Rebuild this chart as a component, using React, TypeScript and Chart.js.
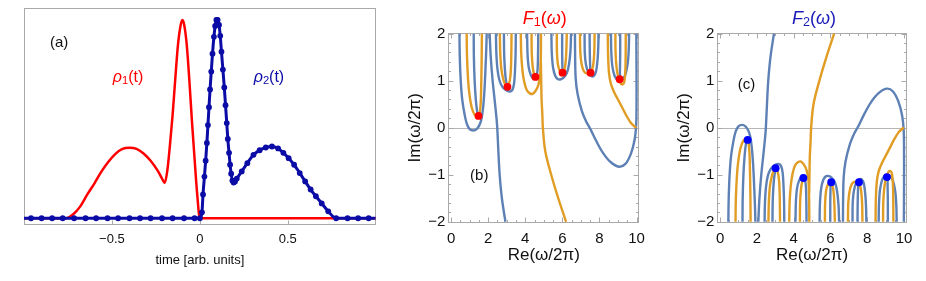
import React, { useEffect, useRef } from 'react';
import { Chart, registerables } from 'chart.js';

Chart.register(...registerables);

const FONT = '"Liberation Sans", Arial, Helvetica, sans-serif';
Chart.defaults.font.family = FONT;

const BLUE_C = '#5e81b5';
const ORANGE_C = '#e19c24';
const DARK_BLUE = '#0b0ba6';
const TITLE_BLUE = '#1a1ab8';
const RED = '#ff0000';
const FRAME = '#a9a9a9';
const TEXT = '#111111';

type P = [number, number];

// ---------- Panel (a): time signals ----------
const timeTicks = [-0.5, 0, 0.5];

const rho1: P[] = [
  [-1, 0], [-0.76, 0], [-0.72, 0.02], [-0.68, 0.06], [-0.64, 0.12], [-0.6, 0.175], [-0.56, 0.235],
  [-0.52, 0.285], [-0.48, 0.325], [-0.44, 0.35], [-0.4, 0.356], [-0.36, 0.35], [-0.32, 0.327],
  [-0.28, 0.29], [-0.24, 0.24], [-0.215, 0.2], [-0.2, 0.178], [-0.185, 0.24], [-0.17, 0.37],
  [-0.155, 0.52], [-0.14, 0.7], [-0.125, 0.87], [-0.11, 0.97], [-0.1, 1.0], [-0.09, 0.98],
  [-0.075, 0.88], [-0.06, 0.7], [-0.045, 0.49], [-0.03, 0.3], [-0.015, 0.12], [0, 0], [1, 0],
];

const rho2: P[] = [
  [-1, 0], [-0.96, 0], [-0.9, 0], [-0.84, 0], [-0.78, 0], [-0.715, 0], [-0.65, 0], [-0.59, 0],
  [-0.525, 0], [-0.465, 0], [-0.4, 0], [-0.34, 0], [-0.28, 0], [-0.215, 0], [-0.155, 0], [-0.09, 0],
  [-0.03, 0], [0, 0], [0.012, 0.03], [0.018, 0.12], [0.026, 0.21], [0.033, 0.29], [0.04, 0.38],
  [0.046, 0.47], [0.052, 0.56], [0.058, 0.65], [0.065, 0.74], [0.072, 0.83], [0.08, 0.915],
  [0.087, 0.97], [0.094, 1.0], [0.101, 1.0], [0.109, 0.975], [0.116, 0.92], [0.123, 0.84],
  [0.131, 0.75], [0.139, 0.66], [0.146, 0.57], [0.153, 0.48], [0.159, 0.4], [0.166, 0.33],
  [0.172, 0.27], [0.178, 0.225], [0.185, 0.19], [0.192, 0.18], [0.2, 0.185], [0.21, 0.2],
  [0.238, 0.236], [0.27, 0.278], [0.305, 0.32], [0.34, 0.343], [0.375, 0.357], [0.41, 0.362],
  [0.445, 0.352], [0.475, 0.33], [0.505, 0.303], [0.536, 0.27], [0.568, 0.228], [0.599, 0.186],
  [0.63, 0.145], [0.66, 0.111], [0.693, 0.075], [0.73, 0.035], [0.775, 0], [0.84, 0], [0.9, 0],
  [0.96, 0], [1, 0],
];

// ---------- Panels (b), (c): contour lines in the complex plane ----------
const reTicks = [0, 2, 4, 6, 8, 10];
const imTicks = [-2, -1, 0, 1, 2];

// (b) F1: blue = Re F1 = 0, orange = Im F1 = 0
const bBlue: P[][] = [
  [[0.45, 2], [0.47, 1.5], [0.52, 1.0], [0.6, 0.6], [0.72, 0.3], [0.85, 0.08], [1.0, -0.03], [1.2, -0.06], [1.38, -0.03], [1.52, 0.05], [1.63, 0.17], [1.72, 0.4], [1.8, 0.8], [1.86, 1.3], [1.9, 1.7], [1.92, 2]],
  [[1.22, 2], [1.23, 1.5], [1.27, 1.0], [1.33, 0.62], [1.4, 0.36], [1.47, 0.24]],
  [[2.08, 2], [2.14, 1.5], [2.24, 1.0], [2.36, 0.55], [2.45, 0.2], [2.49, 0], [2.55, -0.5], [2.62, -1.0], [2.74, -1.5], [2.93, -2]],
  [[2.42, 2], [2.44, 1.6], [2.5, 1.25], [2.6, 1.02], [2.75, 0.88], [2.95, 0.8], [3.15, 0.77], [3.3, 0.8], [3.4, 0.95], [3.45, 1.25], [3.48, 1.6], [3.49, 2]],
  [[2.85, 2], [2.86, 1.6], [2.9, 1.25], [2.96, 1.0], [3.03, 0.88]],
  [[4.1, 2], [4.12, 1.6], [4.18, 1.3], [4.3, 1.12], [4.45, 1.04], [4.58, 1.06], [4.66, 1.22], [4.69, 1.6], [4.7, 2]],
  [[5.41, 2], [5.43, 1.6], [5.5, 1.28], [5.62, 1.1], [5.77, 1.03], [5.92, 1.03], [6.08, 1.07], [6.24, 1.16], [6.36, 1.35], [6.44, 1.65], [6.47, 2]],
  [[5.99, 2], [5.99, 1.6], [6.0, 1.35], [6.01, 1.18]],
  [[6.68, 2], [6.69, 1.5], [6.72, 1.05], [6.82, 0.72], [7.05, 0.36], [7.3, 0.12], [7.5, -0.02], [7.85, -0.3], [8.2, -0.54], [8.6, -0.73], [9.05, -0.83], [9.4, -0.77], [9.7, -0.55], [9.9, -0.25], [9.98, 0.05], [10.0, 0.5], [10.0, 1.2], [9.99, 2]],
  [[7.2, 2], [7.21, 1.6], [7.27, 1.35], [7.4, 1.17], [7.55, 1.1], [7.7, 1.1], [7.82, 1.2], [7.9, 1.45], [7.94, 1.75], [7.95, 2]],
  [[7.47, 2], [7.48, 1.6], [7.5, 1.3], [7.52, 1.18]],
  [[8.62, 2], [8.64, 1.6], [8.7, 1.3], [8.82, 1.1], [8.96, 1.02], [9.1, 1.0], [9.25, 1.03], [9.4, 1.13], [9.52, 1.35], [9.58, 1.65], [9.6, 2]],
  [[9.12, 2], [9.12, 1.6], [9.11, 1.3], [9.1, 1.06]],
];
const bOrange: P[][] = [
  [[0.84, 2], [0.86, 1.5], [0.92, 1.0], [1.0, 0.68], [1.12, 0.42], [1.28, 0.27], [1.45, 0.23], [1.54, 0.3], [1.6, 0.55], [1.63, 1.0], [1.65, 1.5], [1.66, 2]],
  [[2.63, 2], [2.65, 1.6], [2.71, 1.25], [2.82, 1.02], [2.93, 0.91], [3.03, 0.87], [3.12, 0.92], [3.2, 1.1], [3.24, 1.4], [3.26, 2]],
  [[3.76, 2], [3.78, 1.6], [3.84, 1.25], [3.94, 0.98], [4.08, 0.8], [4.25, 0.73], [4.4, 0.72], [4.55, 0.78], [4.7, 0.9], [4.8, 1.1], [4.84, 1.5], [4.85, 2]],
  [[4.34, 2], [4.35, 1.6], [4.4, 1.3], [4.47, 1.14], [4.54, 1.08]],
  [[4.84, 1.4], [4.86, 1.0], [4.88, 0.6], [4.92, 0.3], [4.95, 0], [5.08, -0.5], [5.4, -1.0], [5.78, -1.5], [6.2, -2]],
  [[5.7, 2], [5.71, 1.6], [5.76, 1.35], [5.86, 1.21], [6.0, 1.17], [6.1, 1.22], [6.18, 1.4], [6.22, 1.7], [6.24, 2]],
  [[6.95, 2], [6.97, 1.6], [7.04, 1.35], [7.16, 1.2], [7.33, 1.15], [7.52, 1.17], [7.65, 1.3], [7.72, 1.6], [7.74, 2]],
  [[8.45, 2], [8.47, 1.5], [8.52, 1.15], [8.62, 0.93], [8.8, 0.75], [9.0, 0.6], [9.2, 0.45], [9.45, 0.26], [9.7, 0.1], [9.88, 0.03], [10.0, 0.0]],
  [[8.86, 2], [8.87, 1.6], [8.92, 1.3], [9.0, 1.1], [9.1, 0.98], [9.22, 0.92], [9.32, 0.95], [9.38, 1.1], [9.41, 1.4], [9.42, 2]],
];
const bZeros: P[] = [[1.48, 0.25], [3.04, 0.87], [4.55, 1.08], [6.01, 1.17], [7.52, 1.17], [9.09, 1.03]];

// (c) F2
const cBlue: P[][] = [
  [[0.45, -2], [0.47, -1.5], [0.52, -1.0], [0.6, -0.6], [0.72, -0.3], [0.85, -0.08], [1.0, 0.03], [1.2, 0.06], [1.38, 0.03], [1.52, -0.05], [1.63, -0.17], [1.72, -0.4], [1.8, -0.8], [1.86, -1.3], [1.9, -1.7], [1.92, -2]],
  [[1.22, -2], [1.23, -1.5], [1.27, -1.0], [1.33, -0.62], [1.4, -0.36], [1.47, -0.24]],
  [[2.08, -2], [2.14, -1.5], [2.24, -1.0], [2.36, -0.55], [2.45, -0.2], [2.49, 0], [2.55, 0.5], [2.62, 1.0], [2.74, 1.5], [2.93, 2]],
  [[2.42, -2], [2.44, -1.6], [2.5, -1.25], [2.6, -1.02], [2.75, -0.88], [2.95, -0.8], [3.15, -0.77], [3.3, -0.8], [3.4, -0.95], [3.45, -1.25], [3.48, -1.6], [3.49, -2]],
  [[2.85, -2], [2.86, -1.6], [2.9, -1.25], [2.96, -1.0], [3.03, -0.88]],
  [[4.1, -2], [4.12, -1.6], [4.18, -1.3], [4.3, -1.12], [4.45, -1.04], [4.58, -1.06], [4.66, -1.22], [4.69, -1.6], [4.7, -2]],
  [[5.41, -2], [5.43, -1.6], [5.5, -1.28], [5.62, -1.1], [5.77, -1.03], [5.92, -1.03], [6.08, -1.07], [6.24, -1.16], [6.36, -1.35], [6.44, -1.65], [6.47, -2]],
  [[5.99, -2], [5.99, -1.6], [6.0, -1.35], [6.01, -1.18]],
  [[6.68, -2], [6.69, -1.5], [6.72, -1.05], [6.82, -0.72], [7.05, -0.36], [7.3, -0.12], [7.5, 0.02], [7.85, 0.3], [8.2, 0.54], [8.6, 0.73], [9.05, 0.83], [9.4, 0.77], [9.7, 0.55], [9.9, 0.25], [9.98, -0.05], [10.0, -0.5], [10.0, -1.2], [9.99, -2]],
  [[7.2, -2], [7.21, -1.6], [7.27, -1.35], [7.4, -1.17], [7.55, -1.1], [7.7, -1.1], [7.82, -1.2], [7.9, -1.45], [7.94, -1.75], [7.95, -2]],
  [[7.47, -2], [7.48, -1.6], [7.5, -1.3], [7.52, -1.18]],
  [[8.62, -2], [8.64, -1.6], [8.7, -1.3], [8.82, -1.1], [8.96, -1.02], [9.1, -1.0], [9.25, -1.03], [9.4, -1.13], [9.52, -1.35], [9.58, -1.65], [9.6, -2]],
  [[9.12, -2], [9.12, -1.6], [9.11, -1.3], [9.1, -1.06]],
];
const cOrange: P[][] = [
  [[0.84, -2], [0.86, -1.5], [0.92, -1.0], [1.0, -0.68], [1.12, -0.42], [1.28, -0.27], [1.45, -0.23], [1.54, -0.3], [1.6, -0.55], [1.63, -1.0], [1.65, -1.5], [1.66, -2]],
  [[2.63, -2], [2.65, -1.6], [2.71, -1.25], [2.82, -1.02], [2.93, -0.91], [3.03, -0.87], [3.12, -0.92], [3.2, -1.1], [3.24, -1.4], [3.26, -2]],
  [[3.76, -2], [3.78, -1.6], [3.84, -1.25], [3.94, -0.98], [4.08, -0.8], [4.25, -0.73], [4.4, -0.72], [4.55, -0.78], [4.7, -0.9], [4.8, -1.1], [4.84, -1.5], [4.85, -2]],
  [[4.34, -2], [4.35, -1.6], [4.4, -1.3], [4.47, -1.14], [4.54, -1.08]],
  [[4.84, -1.4], [4.86, -1.0], [4.88, -0.6], [4.92, -0.3], [4.95, 0], [5.08, 0.5], [5.4, 1.0], [5.78, 1.5], [6.2, 2]],
  [[5.7, -2], [5.71, -1.6], [5.76, -1.35], [5.86, -1.21], [6.0, -1.17], [6.1, -1.22], [6.18, -1.4], [6.22, -1.7], [6.24, -2]],
  [[6.95, -2], [6.97, -1.6], [7.04, -1.35], [7.16, -1.2], [7.33, -1.15], [7.52, -1.17], [7.65, -1.3], [7.72, -1.6], [7.74, -2]],
  [[8.45, -2], [8.47, -1.5], [8.52, -1.15], [8.62, -0.93], [8.8, -0.75], [9.0, -0.6], [9.2, -0.45], [9.45, -0.26], [9.7, -0.1], [9.88, -0.03], [10.0, 0.0]],
  [[8.86, -2], [8.87, -1.6], [8.92, -1.3], [9.0, -1.1], [9.1, -0.98], [9.22, -0.92], [9.32, -0.95], [9.38, -1.1], [9.41, -1.4], [9.42, -2]],
];
const cZeros: P[] = [[1.5, -0.26], [3.02, -0.86], [4.53, -1.07], [6.04, -1.16], [7.55, -1.16], [9.07, -1.05]];

// ---------- helpers ----------
const fmt = (v: any) => (Number(v) < 0 ? '\u2212' + String(-Number(v)) : String(v));

function steps(a: number, b: number, s: number, skipEvery: number): number[] {
  const out: number[] = [];
  const n = Math.round((b - a) / s);
  for (let i = 0; i <= n; i++) {
    const v = +(a + i * s).toFixed(4);
    const r = v / skipEvery;
    if (Math.abs(r - Math.round(r)) > 1e-6) out.push(v);
  }
  return out;
}

function makeFrame(cfg: any) {
  return {
    id: 'frame',
    beforeDatasetsDraw(chart: any) {
      const { ctx, chartArea: ca, scales } = chart;
      ctx.save();
      ctx.lineWidth = 1;
      if (cfg.zeroLine) {
        const y0 = Math.round(scales.y.getPixelForValue(0)) + 0.5;
        ctx.strokeStyle = cfg.zeroColor;
        ctx.beginPath();
        ctx.moveTo(ca.left, y0);
        ctx.lineTo(ca.right, y0);
        ctx.stroke();
      }
      const L = Math.round(ca.left) + 0.5;
      const R = Math.round(ca.right) - 0.5;
      const T = Math.round(ca.top) + 0.5;
      const B = Math.round(ca.bottom) - 0.5;
      ctx.strokeStyle = cfg.color;
      ctx.strokeRect(L, T, R - L, B - T);
      ctx.beginPath();
      const xt = (vals: number[], len: number) => {
        for (const v of vals) {
          const p = Math.round(scales.x.getPixelForValue(v)) + 0.5;
          ctx.moveTo(p, B);
          ctx.lineTo(p, B - len);
          if (cfg.allSides) {
            ctx.moveTo(p, T);
            ctx.lineTo(p, T + len);
          }
        }
      };
      const yt = (vals: number[], len: number) => {
        for (const v of vals) {
          const p = Math.round(scales.y.getPixelForValue(v)) + 0.5;
          ctx.moveTo(L, p);
          ctx.lineTo(L + len, p);
          if (cfg.allSides) {
            ctx.moveTo(R, p);
            ctx.lineTo(R - len, p);
          }
        }
      };
      xt(cfg.xMajor || [], cfg.majorLen);
      xt(cfg.xMinor || [], cfg.minorLen);
      yt(cfg.yMajor || [], cfg.majorLen);
      yt(cfg.yMinor || [], cfg.minorLen);
      ctx.stroke();
      ctx.restore();
    },
  };
}

function makeRichText(items: any[]) {
  return {
    id: 'richText',
    afterDraw(chart: any) {
      const { ctx, chartArea, scales } = chart;
      ctx.save();
      ctx.textBaseline = 'middle';
      ctx.textAlign = 'left';
      for (const it of items) {
        const px = it.pixel ? (chartArea.left + chartArea.right) / 2 + it.x : scales.x.getPixelForValue(it.x);
        const py = it.pixel ? it.y : scales.y.getPixelForValue(it.y);
        const font = (p: any) => `${p.italic ? 'italic ' : ''}${(it.size * (p.scale || 1)).toFixed(1)}px ${FONT}`;
        let w = 0;
        for (const p of it.parts) {
          ctx.font = font(p);
          w += ctx.measureText(p.t).width;
        }
        let cx = px - w / 2;
        ctx.fillStyle = it.color;
        for (const p of it.parts) {
          ctx.font = font(p);
          ctx.fillText(p.t, cx, py + (p.dy || 0));
          cx += ctx.measureText(p.t).width;
        }
      }
      ctx.restore();
    },
  };
}

const contour = (data: P[], color: string) => ({
  data,
  borderColor: color,
  borderWidth: 2.4,
  showLine: true,
  tension: 0.35,
  pointRadius: 0,
  fill: false,
  borderCapStyle: 'butt',
  borderJoinStyle: 'round',
});

// ---------- configs ----------
function configA(): any {
  return {
    type: 'scatter',
    data: {
      datasets: [
        {
          data: rho2,
          borderColor: DARK_BLUE,
          borderWidth: 3,
          showLine: true,
          cubicInterpolationMode: 'monotone',
          pointRadius: (c: any) => {
            const t = c.raw ? c.raw[0] : 0;
            return t <= -0.999 || t >= 0.999 ? 0 : 2.9;
          },
          pointBackgroundColor: DARK_BLUE,
          pointBorderWidth: 0,
        },
        {
          data: rho1,
          borderColor: RED,
          borderWidth: 2.5,
          showLine: true,
          cubicInterpolationMode: 'monotone',
          pointRadius: 0,
        },
      ],
    },
    options: {
      responsive: false,
      animation: false,
      events: [],
      layout: { padding: { left: 24, right: 14.3, top: 8.3, bottom: 0 } },
      scales: {
        x: {
          type: 'linear',
          min: -1,
          max: 1,
          grid: { display: false, drawTicks: false },
          border: { display: false },
          afterBuildTicks: (s: any) => {
            s.ticks = timeTicks.map((v) => ({ value: v }));
          },
          afterFit: (s: any) => {
            s.height = 56;
          },
          ticks: { padding: 6.5, font: { size: 13 }, color: TEXT, callback: fmt, maxRotation: 0, autoSkip: false },
          title: { display: true, text: 'time [arb. units]', font: { size: 13 }, color: TEXT, padding: { top: 0, bottom: 13.2 } },
        },
        y: { type: 'linear', min: -0.034, max: 1.059, display: false },
      },
      plugins: { legend: { display: false }, tooltip: { enabled: false } },
    },
    plugins: [
      makeFrame({ color: FRAME, xMajor: timeTicks, majorLen: 4, minorLen: 2, allSides: false }),
      makeRichText([
        { x: -0.8, y: 0.884, parts: [{ t: '(a)' }], color: TEXT, size: 15 },
        { x: -0.408, y: 0.712, parts: [{ t: 'ρ', italic: true }, { t: '1', scale: 0.7, dy: 4 }, { t: '(t)' }], color: RED, size: 16 },
        { x: 0.393, y: 0.712, parts: [{ t: 'ρ', italic: true }, { t: '2', scale: 0.7, dy: 4 }, { t: '(t)' }], color: DARK_BLUE, size: 16 },
      ]),
    ],
  };
}

function configComplex(blue: P[][], orange: P[][], zeros: P[], zeroColor: string, yAxisWidth: number, rightPad: number, yTitlePad: number, labels: any[]): any {
  const datasets: any[] = [
    { data: zeros, showLine: false, pointRadius: 3.9, pointBackgroundColor: zeroColor, pointBorderWidth: 0 },
    ...orange.map((d) => contour(d, ORANGE_C)),
    ...blue.map((d) => contour(d, BLUE_C)),
  ];
  return {
    type: 'scatter',
    data: { datasets },
    options: {
      responsive: false,
      animation: false,
      events: [],
      layout: { padding: { left: 0, right: rightPad, top: 32.7, bottom: 0 } },
      scales: {
        x: {
          type: 'linear',
          min: -0.15,
          max: 10.15,
          grid: { display: false, drawTicks: false },
          border: { display: false },
          afterBuildTicks: (s: any) => {
            s.ticks = reTicks.map((v) => ({ value: v }));
          },
          afterFit: (s: any) => {
            s.height = 58.3;
          },
          ticks: { padding: 7, font: { size: 15 }, color: TEXT, callback: fmt, maxRotation: 0, autoSkip: false },
          title: { display: true, text: 'Re(ω/2π)', font: { size: 17 }, color: TEXT, padding: { top: 0, bottom: 15.5 } },
        },
        y: {
          type: 'linear',
          min: -2.02,
          max: 2.02,
          grid: { display: false, drawTicks: false },
          border: { display: false },
          afterBuildTicks: (s: any) => {
            s.ticks = imTicks.map((v) => ({ value: v }));
          },
          afterFit: (s: any) => {
            s.width = yAxisWidth;
          },
          ticks: { padding: 3, font: { size: 15 }, color: TEXT, callback: fmt, autoSkip: false },
          title: { display: true, text: 'Im(ω/2π)', font: { size: 17 }, color: TEXT, padding: { top: yTitlePad, bottom: 0 } },
        },
      },
      plugins: { legend: { display: false }, tooltip: { enabled: false } },
    },
    plugins: [
      makeFrame({
        color: FRAME,
        zeroLine: true,
        zeroColor: '#b5b5b5',
        xMajor: reTicks,
        xMinor: steps(0, 10, 0.5, 2),
        yMajor: imTicks,
        yMinor: steps(-2, 2, 0.2, 1),
        majorLen: 5,
        minorLen: 2.5,
        allSides: true,
      }),
      makeRichText(labels),
    ],
  };
}

function ChartCanvas({ left, width, build }: { left: number; width: number; build: () => any }) {
  const ref = useRef<HTMLCanvasElement>(null);
  useEffect(() => {
    const chart = new Chart(ref.current as HTMLCanvasElement, build());
    return () => chart.destroy();
  }, []);
  return (
    <canvas
      ref={ref}
      width={width}
      height={281}
      style={{ position: 'absolute', left, top: 0, width, height: 281, display: 'block' }}
    />
  );
}

export default function App() {
  return (
    <div style={{ position: 'absolute', left: 0, top: 0, width: 926, height: 281, background: '#ffffff', overflow: 'hidden' }}>
      <ChartCanvas left={0} width={390} build={configA} />
      <ChartCanvas
        left={390}
        width={270}
        build={() =>
          configComplex(bBlue, bOrange, bZeros, RED, 58.3, 20.7, 14.8, [
            { x: 1.52, y: -1.03, parts: [{ t: '(b)' }], color: TEXT, size: 15 },
            { pixel: true, x: 1, y: 19, parts: [{ t: 'F', italic: true }, { t: '1', scale: 0.7, dy: 4 }, { t: '(' }, { t: 'ω', italic: true }, { t: ')' }], color: RED, size: 18 },
          ])
        }
      />
      <ChartCanvas
        left={660}
        width={266}
        build={() =>
          configComplex(cBlue, cOrange, cZeros, '#0000ff', 57.3, 19.2, 13.8, [
            { x: 1.44, y: 0.92, parts: [{ t: '(c)' }], color: TEXT, size: 15 },
            { pixel: true, x: 2, y: 19, parts: [{ t: 'F', italic: true }, { t: '2', scale: 0.7, dy: 4 }, { t: '(' }, { t: 'ω', italic: true }, { t: ')' }], color: TITLE_BLUE, size: 18 },
          ])
        }
      />
    </div>
  );
}
